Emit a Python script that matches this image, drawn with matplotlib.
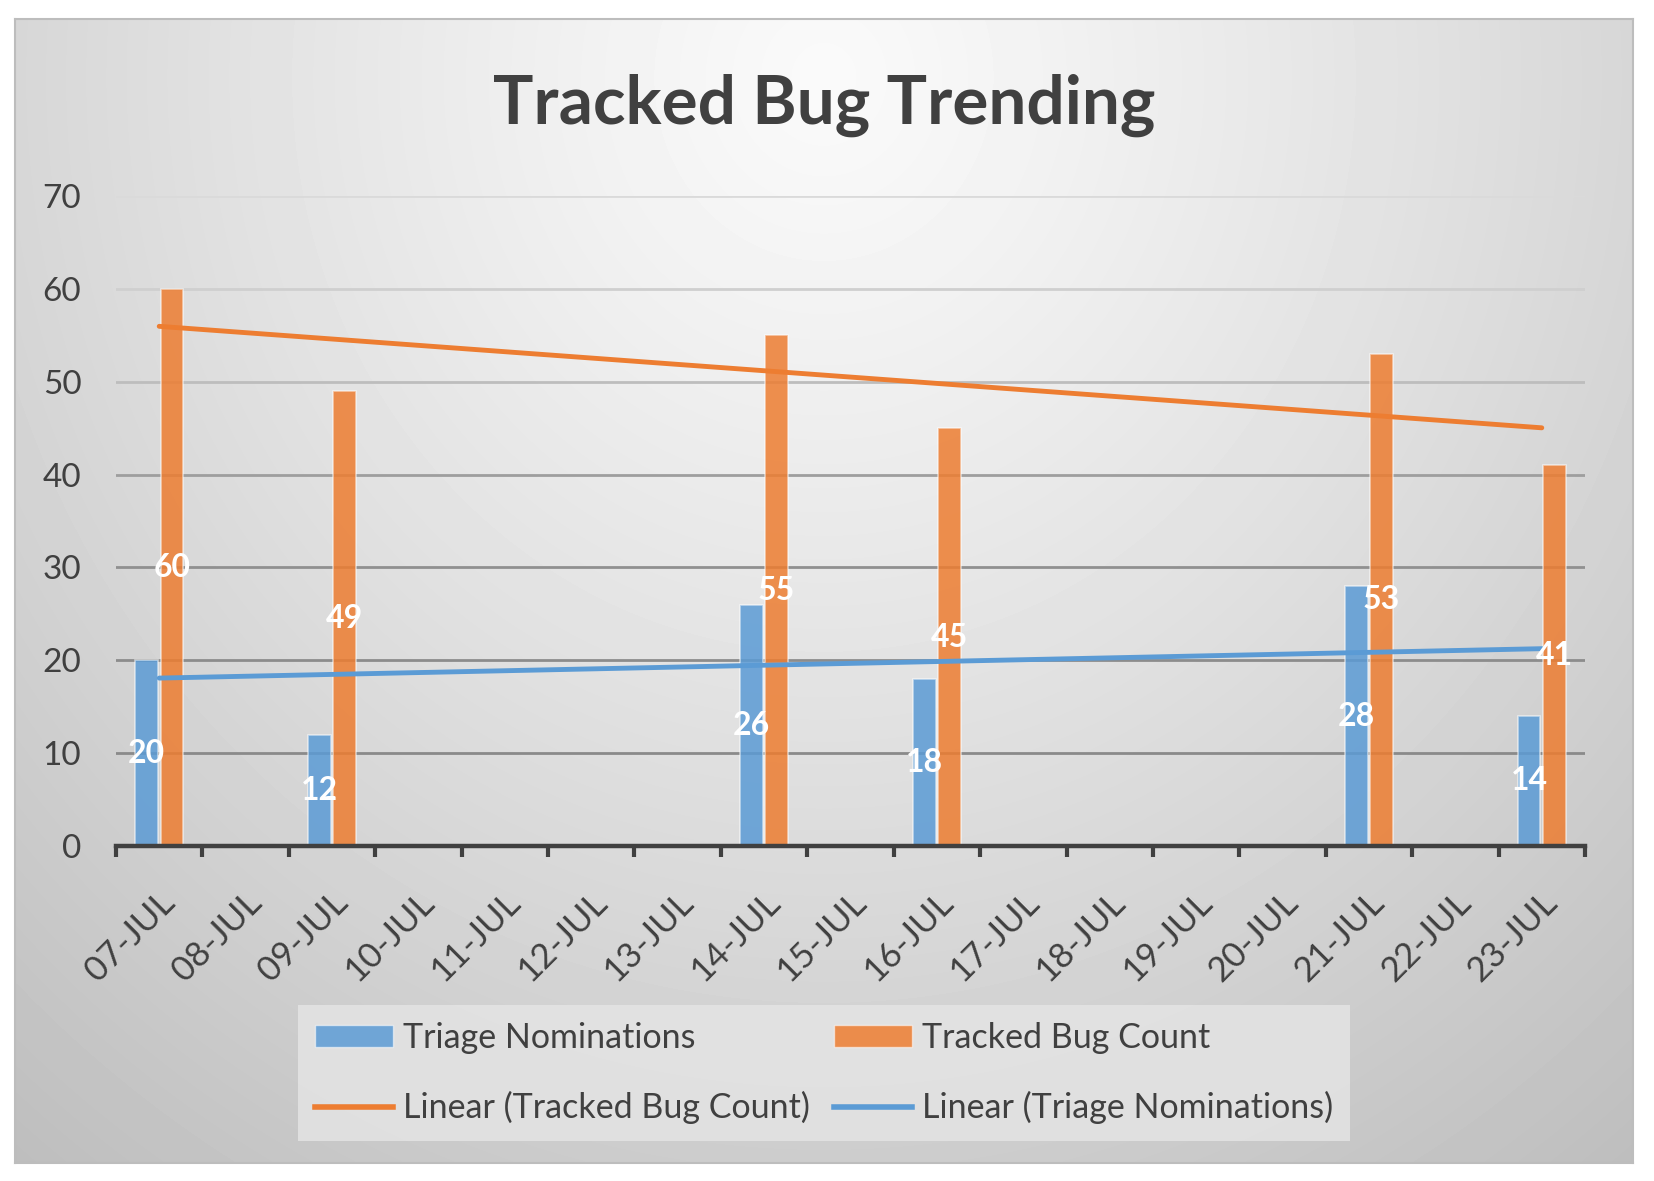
import numpy as np
import matplotlib
matplotlib.use('Agg')
import matplotlib.pyplot as plt
from matplotlib.patches import Patch
from matplotlib.lines import Line2D
from matplotlib.colors import to_rgba
import matplotlib.transforms as mtransforms

# ---------------- data ----------------
axis_dates = ['07-JUL', '08-JUL', '09-JUL', '10-JUL', '11-JUL', '12-JUL', '13-JUL',
              '14-JUL', '15-JUL', '16-JUL', '17-JUL', '18-JUL', '19-JUL', '20-JUL',
              '21-JUL', '22-JUL', '23-JUL']
report_dates = ['07-JUL', '09-JUL', '14-JUL', '16-JUL', '21-JUL', '23-JUL']
triage = [20, 12, 26, 18, 28, 14]
tracked = [60, 49, 55, 45, 53, 41]
y_ticks = [0, 10, 20, 30, 40, 50, 60, 70]
series_names = ['Triage Nominations', 'Tracked Bug Count']
chart_title = 'Tracked Bug Trending'

# ---------------- style ----------------
plt.rcParams['font.family'] = ['Lato', 'DejaVu Sans']
BLUE = '#5B9BD5'
ORANGE = '#ED7D31'
TXT = '#404040'
grid_colors = ['#8a8a8a', '#8c8c8c', '#909090', '#9e9e9e', '#bdbdbd', '#cfcfcf', '#dadada']

W, H = 1654, 1181
fig = plt.figure(figsize=(W / 100, H / 100), dpi=100)
fig.patch.set_facecolor('white')

# chart-area background with radial gradient
bx0, by0, bx1, by1 = 15, 19, 1633, 1163
bg = fig.add_axes([bx0 / W, 1 - by1 / H, (bx1 - bx0) / W, (by1 - by0) / H])
u = np.linspace(0, 1, 400)
v = np.linspace(0, 1, 300)
U, V = np.meshgrid(u, v)
r = np.sqrt(((U - 0.5) / 0.72) ** 2 + ((V - 0.05) / 1.1) ** 2)
shade = np.clip(0.98 - 0.21 * r ** 1.15, 0, 1)
bg.imshow(shade, cmap='gray', vmin=0, vmax=1, extent=[0, 1, 1, 0],
          aspect='auto', interpolation='bilinear')
bg.set_xlim(0, 1)
bg.set_ylim(1, 0)
bg.set_xticks([])
bg.set_yticks([])
for s in bg.spines.values():
    s.set_color('#bdbdbd')
    s.set_linewidth(1.5)

# main plot axes
ax = fig.add_axes([116 / W, 1 - 846 / H, (1585 - 116) / W, (846 - 196) / H])
ax.patch.set_alpha(0)

pos = np.array([axis_dates.index(d) for d in report_dates])
bw, off = 0.26, 0.145
blue_fc = to_rgba(BLUE, 0.85)
orange_fc = to_rgba(ORANGE, 0.85)
edge = (1, 1, 1, 0.55)

for i, yv in enumerate(y_ticks[1:]):
    ax.axhline(yv, color=grid_colors[i], lw=2.0, zorder=0.5)

b1 = ax.bar(pos - off, triage, bw, color=blue_fc, edgecolor=edge, linewidth=1.2, zorder=2)
b2 = ax.bar(pos + off, tracked, bw, color=orange_fc, edgecolor=edge, linewidth=1.2, zorder=2)

xs = np.array([pos.min(), pos.max()])
for vals, col in ((tracked, ORANGE), (triage, BLUE)):
    k, b = np.polyfit(pos, vals, 1)
    ax.plot(xs, k * xs + b, color=col, lw=3.5, solid_capstyle='round', zorder=3)

for bars in (b1, b2):
    for t in ax.bar_label(bars, label_type='center', color='white',
                          fontsize=23, fontweight='bold'):
        t.set_zorder(5)

ax.set_xlim(-0.5, len(axis_dates) - 0.5)
ax.set_ylim(min(y_ticks), max(y_ticks))
ax.set_yticks(y_ticks)
ax.set_xticks(np.arange(len(axis_dates)))
ax.set_xticklabels(axis_dates, rotation=45, ha='right', va='top', rotation_mode='anchor')
ax.set_xticks(np.arange(len(axis_dates) + 1) - 0.5, minor=True)
ax.tick_params(axis='x', which='major', length=0, pad=29, labelsize=25, labelcolor=TXT)
ax.tick_params(axis='x', which='minor', length=8, width=3, color=TXT, direction='out')
ax.tick_params(axis='y', length=0, pad=25, labelsize=24, labelcolor=TXT)
shift = mtransforms.ScaledTranslation(-1 / 100, 0, fig.dpi_scale_trans)
for lab in ax.get_xticklabels():
    lab.set_transform(lab.get_transform() + shift)

for side in ('left', 'right', 'top'):
    ax.spines[side].set_visible(False)
ax.spines['bottom'].set_color(TXT)
ax.spines['bottom'].set_linewidth(3.2)
ax.spines['bottom'].set_zorder(4)

# title
fig.text(824 / W, 1 - 124 / H, chart_title, ha='center', va='baseline',
         fontsize=48.5, fontweight='bold', color=TXT)

# legend
handles = [Patch(facecolor=blue_fc, edgecolor=edge),
           Line2D([], [], color=ORANGE, lw=4),
           Patch(facecolor=orange_fc, edgecolor=edge),
           Line2D([], [], color=BLUE, lw=4)]
labels = [series_names[0], 'Linear (%s)' % series_names[1],
          series_names[1], 'Linear (%s)' % series_names[0]]
leg = fig.legend(handles, labels, ncol=2, loc='center',
                 bbox_to_anchor=(824 / W, 1 - 1073 / H), fontsize=24.5,
                 frameon=True, fancybox=False, facecolor='#e4e4e4', edgecolor='none',
                 framealpha=0.85, handlelength=2.3, handleheight=0.6,
                 handletextpad=0.3, columnspacing=0.7, labelspacing=1.1,
                 borderpad=0.5, labelcolor=TXT)

fig.savefig('out.png', dpi=100)
